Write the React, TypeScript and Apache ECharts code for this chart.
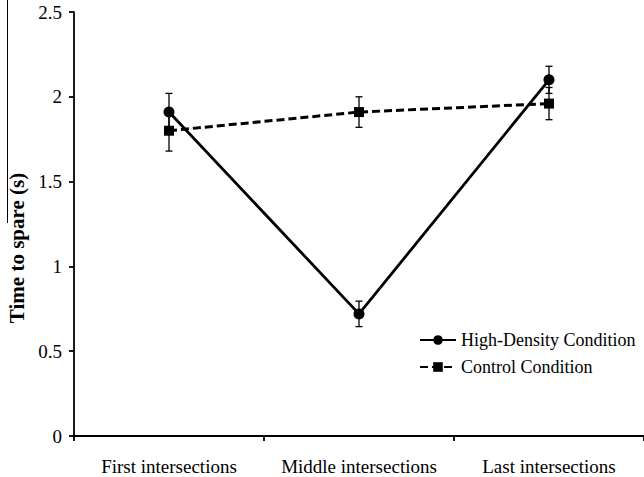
import React, { useEffect, useRef } from "react";
import * as echarts from "echarts";

// Mean time to spare per intersection group, with standard errors
const categories = ["First intersections", "Middle intersections", "Last intersections"];
const highDensity = [1.91, 0.72, 2.1];
const highDensityErr = [0.11, 0.075, 0.08];
const control = [1.8, 1.91, 1.96];
const controlErr = [0.12, 0.09, 0.095];

const yMin = 0;
const yMax = 2.5;
const yStep = 0.5;

const seriesNames = ["High-Density Condition", "Control Condition"];

const FONT = "'Liberation Serif', 'Times New Roman', serif";

function errorBars(values: number[], errs: number[], name: string) {
  return {
    type: "custom",
    name,
    z: 1,
    silent: true,
    encode: { x: 0, y: [1, 2] },
    data: values.map((v, i) => [i, v - errs[i], v + errs[i]]),
    renderItem: (_params: any, api: any) => {
      const i = api.value(0);
      const lo = api.coord([i, api.value(1)]);
      const hi = api.coord([i, api.value(2)]);
      const half = 3.5;
      const style = { stroke: "#000", lineWidth: 1.3 };
      return {
        type: "group",
        children: [
          { type: "line", shape: { x1: lo[0], y1: lo[1], x2: hi[0], y2: hi[1] }, style },
          { type: "line", shape: { x1: lo[0] - half, y1: lo[1], x2: lo[0] + half, y2: lo[1] }, style },
          { type: "line", shape: { x1: hi[0] - half, y1: hi[1], x2: hi[0] + half, y2: hi[1] }, style },
        ],
      };
    },
  };
}

export default function App() {
  const ref = useRef<HTMLDivElement>(null);

  useEffect(() => {
    if (!ref.current) return;
    const chart = echarts.init(ref.current, undefined, { renderer: "svg" });
    chart.setOption({
      animation: false,
      backgroundColor: "#fff",
      textStyle: { fontFamily: FONT, color: "#000" },
      grid: { left: 74, top: 12, bottom: 41, width: 577 },
      xAxis: {
        type: "category",
        data: categories,
        boundaryGap: true,
        axisLine: { show: true, lineStyle: { color: "#000", width: 1.8 } },
        axisTick: { show: true, length: 5, inside: false, lineStyle: { color: "#000", width: 1.8 } },
        axisLabel: { color: "#000", fontSize: 19, fontFamily: FONT, margin: 21, interval: 0 },
        splitLine: { show: false },
      },
      yAxis: {
        type: "value",
        min: yMin,
        max: yMax,
        interval: yStep,
        axisLine: { show: true, lineStyle: { color: "#000", width: 1.8 } },
        axisTick: { show: true, length: 5, inside: false, lineStyle: { color: "#000", width: 1.8 } },
        axisLabel: { color: "#000", fontSize: 19, fontFamily: FONT, margin: 12 },
        splitLine: { show: false },
      },
      legend: {
        data: seriesNames,
        orient: "vertical",
        left: 419,
        top: 331,
        padding: 0,
        itemWidth: 36,
        itemHeight: 12,
        itemGap: 9,
        textStyle: { color: "#000", fontSize: 18, fontFamily: FONT },
      },
      graphic: [
        {
          type: "line",
          shape: { x1: 7.5, y1: 0, x2: 7.5, y2: 223 },
          style: { stroke: "#000", lineWidth: 1 },
        },
        {
          type: "text",
          x: 17,
          y: 248,
          rotation: Math.PI / 2,
          style: {
            text: "Time to spare (s)",
            font: `bold 21px ${FONT}`,
            fill: "#000",
            textAlign: "center",
            textVerticalAlign: "middle",
          },
        },
      ],
      series: [
        errorBars(highDensity, highDensityErr, "hd-err"),
        errorBars(control, controlErr, "ctrl-err"),
        {
          name: seriesNames[0],
          type: "line",
          data: highDensity,
          z: 3,
          symbol: "circle",
          symbolSize: 11,
          lineStyle: { color: "#000", width: 2.8, type: "solid" },
          itemStyle: { color: "#000" },
        },
        {
          name: seriesNames[1],
          type: "line",
          data: control,
          z: 2,
          symbol: "rect",
          symbolSize: 10,
          lineStyle: { color: "#000", width: 3, type: [8, 4] },
          itemStyle: { color: "#000" },
        },
      ],
    });
    return () => chart.dispose();
  }, []);

  return (
    <div
      ref={ref}
      style={{ position: "absolute", left: 0, top: 0, width: 644, height: 477 }}
    />
  );
}
